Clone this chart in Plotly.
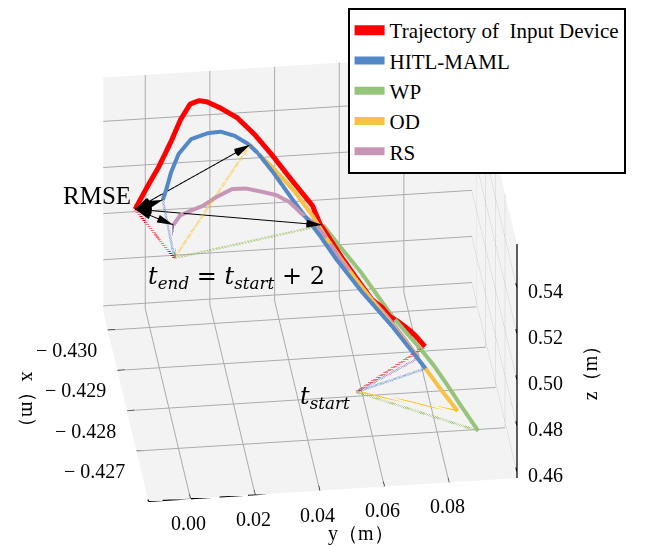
import numpy as np
import plotly.graph_objects as go

# ---------------- data (metres) ----------------
red_x = [-0.42785, -0.42796, -0.42801, -0.42806, -0.42812, -0.42816, -0.42826, -0.42834, -0.42857, -0.42880,
         -0.42901, -0.42914, -0.42934, -0.42961, -0.42989, -0.43009, -0.43027, -0.43037, -0.43043, -0.43044,
         -0.43040, -0.43023, -0.42999, -0.42971, -0.42947, -0.42924]
red_y = [0.07877, 0.07624, 0.07481, 0.07307, 0.07102, 0.06895, 0.06671, 0.06380, 0.05967, 0.05556,
         0.05231, 0.05013, 0.04840, 0.04281, 0.03725, 0.03276, 0.02790, 0.02288, 0.01900, 0.01655,
         0.01368, 0.01021, 0.00660, 0.00198, -0.00256, -0.00678]
red_z = [0.47983, 0.48272, 0.48408, 0.48547, 0.48691, 0.48812, 0.49074, 0.49299, 0.49866, 0.50455,
         0.50963, 0.51295, 0.51759, 0.52438, 0.53140, 0.53665, 0.54126, 0.54425, 0.54617, 0.54673,
         0.54618, 0.54269, 0.53783, 0.53218, 0.52744, 0.52266]

blue_x = [-0.42761, -0.42805, -0.42842, -0.42877, -0.42901, -0.42937, -0.42968, -0.42989, -0.42999,
          -0.43007, -0.43011, -0.43009, -0.43002, -0.42985, -0.42965, -0.42947, -0.42935]
blue_y = [0.07825, 0.06934, 0.06090, 0.05395, 0.04984, 0.04291, 0.03742, 0.03324, 0.03038,
          0.02654, 0.02231, 0.01825, 0.01284, 0.00847, 0.00555, 0.00362, 0.00211]
blue_z = [0.47455, 0.48574, 0.49524, 0.50407, 0.50997, 0.51903, 0.52673, 0.53194, 0.53465,
          0.53702, 0.53852, 0.53860, 0.53769, 0.53456, 0.53030, 0.52661, 0.52402]

green_x = [-0.42695, -0.42721, -0.42744, -0.42765, -0.42783, -0.42800, -0.42817, -0.42832, -0.42863,
           -0.42890, -0.42913]
green_y = [0.09255, 0.08817, 0.08437, 0.08081, 0.07718, 0.07324, 0.06959, 0.06685, 0.06135,
           0.05576, 0.05104]
green_z = [0.45777, 0.46416, 0.47002, 0.47514, 0.47958, 0.48406, 0.48826, 0.49212, 0.49982,
           0.50662, 0.51259]

yellow_x = [-0.42716, -0.42741, -0.42761, -0.42793, -0.42820, -0.42847, -0.42877, -0.42901, -0.42923,
            -0.42949, -0.42973, -0.42989, -0.42998]
yellow_y = [0.08683, 0.08183, 0.07825, 0.07216, 0.06657, 0.06101, 0.05549, 0.05138, 0.04815,
            0.04318, 0.03753, 0.03324, 0.03097]
yellow_z = [0.46318, 0.46966, 0.47455, 0.48257, 0.48936, 0.49638, 0.50386, 0.50976, 0.51507,
            0.52178, 0.52788, 0.53194, 0.53434]

purple_x = [-0.42772, -0.42795, -0.42816, -0.42834, -0.42855, -0.42875, -0.42898, -0.42914, -0.42924,
            -0.42937, -0.42944, -0.42947, -0.42950, -0.42949, -0.42940, -0.42930, -0.42924, -0.42919,
            -0.42908]
purple_y = [0.07634, 0.07221, 0.06803, 0.06380, 0.05962, 0.05545, 0.05193, 0.04859, 0.04509,
            0.04137, 0.03751, 0.03326, 0.02839, 0.02404, 0.01890, 0.01435, 0.01020, 0.00700,
            0.00461]
purple_z = [0.47737, 0.48303, 0.48824, 0.49299, 0.49820, 0.50340, 0.50899, 0.51315, 0.51571,
            0.51923, 0.52138, 0.52264, 0.52399, 0.52434, 0.52294, 0.52122, 0.52039, 0.51965,
            0.51765]

t_start_pt = [-0.42733, 0.05603, 0.47125]
t_end_pt = [-0.42872, 0.00382, 0.50962]

x_ticks = [-0.430, -0.429, -0.428, -0.427]
y_ticks = [0.00, 0.02, 0.04, 0.06, 0.08]
z_ticks = [0.46, 0.48, 0.50, 0.52, 0.54]
x_range = [-0.43046, -0.42575]
y_range = [-0.013, 0.101]
z_range = [0.4575, 0.559]

series = [
    ("Trajectory of  Input Device", red_x, red_y, red_z, "#ff0000", 10, "#ff0000"),
    ("HITL-MAML", blue_x, blue_y, blue_z, "#5288c8", 8, "#4a78c0"),
    ("WP", green_x, green_y, green_z, "#95c47a", 8, "#8cb84e"),
    ("OD", yellow_x, yellow_y, yellow_z, "#f6c243", 8, "#ffc000"),
    ("RS", purple_x, purple_y, purple_z, "#c896b5", 8, "#8a64aa"),
]

SERIF = "Liberation Serif"
MATH = "DejaVu Serif"
fig = go.Figure()

def seg(p, q, color="black", width=2, dash=None):
    line = dict(color=color, width=width)
    if dash:
        line["dash"] = dash
    fig.add_trace(go.Scatter3d(x=[p[0], q[0]], y=[p[1], q[1]], z=[p[2], q[2]], mode="lines",
                               line=line, showlegend=False, hoverinfo="skip"))

# dotted guide lines
for name, xs, ys, zs, col, w, dcol in series:
    seg(t_start_pt, [xs[0], ys[0], zs[0]], dcol, 5, "dot")
    seg(t_end_pt, [xs[-1], ys[-1], zs[-1]], dcol, 5, "dot")

for name, xs, ys, zs, col, w, dcol in series:
    fig.add_trace(go.Scatter3d(x=xs, y=ys, z=zs, mode="lines", name=name,
                               line=dict(color=col, width=w)))

# RMSE arrows from the end of the input-device trajectory
asp = np.array([1.36, 1.36, 1.0])
rng = np.array([x_range[1] - x_range[0], y_range[1] - y_range[0], z_range[1] - z_range[0]])
p0 = np.array([red_x[-1], red_y[-1], red_z[-1]])
cx, cy, cz, cu, cv, cw = [], [], [], [], [], []
for name, xs, ys, zs, col, w, dcol in series[1:]:
    p1 = np.array([xs[-1], ys[-1], zs[-1]])
    seg(p0, p1, "black", 2)
    d = p1 - p0
    s = d / rng * asp
    dn = d / np.linalg.norm(s) * 0.06
    for tip, vec in ((p1, dn), (p0, -dn)):
        cx.append(tip[0]); cy.append(tip[1]); cz.append(tip[2])
        cu.append(vec[0]); cv.append(vec[1]); cw.append(vec[2])

fig.add_trace(go.Cone(x=cx, y=cy, z=cz, u=cu, v=cv, w=cw, anchor="tip",
                      sizemode="raw", sizeref=1, showscale=False,
                      colorscale=[[0, "black"], [1, "black"]], hoverinfo="skip"))

# axis lines and ticks (matplotlib-like placement)
x_near, x_far = x_range[1], x_range[0]
y_min, y_max = y_range
z_min, z_max = z_range
seg([x_far, y_min, z_min], [x_near, y_min, z_min], "black", 2.5)
seg([x_near, y_min, z_min], [x_near, y_max, z_min], "black", 2.5)
seg([x_near, y_max, z_min], [x_near, y_max, z_max], "black", 2.5)
for v in x_ticks:
    seg([v, y_min, z_min], [v, y_min + 0.02 * rng[1], z_min], "black", 2)
for v in y_ticks:
    seg([x_near, v, z_min], [x_near - 0.025 * rng[0], v, z_min], "black", 2)
for v in z_ticks:
    seg([x_near, y_max, v], [x_near - 0.025 * rng[0], y_max, v], "black", 2)

tf = dict(family=SERIF, size=20, color="black")
annotations = []
for v in x_ticks:
    annotations.append(dict(x=v, y=y_min, z=z_min, text="\u2212 %.3f" % abs(v), showarrow=False,
                            xanchor="right", yanchor="middle", xshift=-9, yshift=-20, font=tf))
for v in y_ticks:
    annotations.append(dict(x=x_near, y=v, z=z_min, text="%.2f" % v, showarrow=False,
                            xanchor="center", yanchor="middle", xshift=-2, yshift=-24, font=tf))
for v in z_ticks:
    annotations.append(dict(x=x_near, y=y_max, z=v, text="%.2f" % v, showarrow=False,
                            xanchor="left", yanchor="middle", xshift=9, yshift=-3, font=tf))

annotations += [
    dict(x=red_x[-1], y=red_y[-1], z=red_z[-1], text="RMSE", showarrow=False,
         xanchor="right", yanchor="bottom", xshift=-2, yshift=-2,
         font=dict(family=SERIF, size=25, color="black")),
    dict(x=t_end_pt[0], y=t_end_pt[1], z=t_end_pt[2],
         text="<i>t</i><sub><i>end</i></sub> = <i>t</i><sub><i>start</i></sub> + 2",
         showarrow=False, xanchor="left", yanchor="top", xshift=-28, yshift=-2,
         font=dict(family=MATH, size=24, color="black")),
    dict(x=t_start_pt[0], y=t_start_pt[1], z=t_start_pt[2],
         text="<i>t</i><sub><i>start</i></sub>", showarrow=False,
         xanchor="right", yanchor="middle", xshift=-4, yshift=-6,
         font=dict(family=MATH, size=24, color="black")),
]

hidden = dict(showbackground=True, backgroundcolor="#f3f3f3", gridcolor="#ababab",
              gridwidth=2, showline=False, ticks="", showticklabels=False,
              showspikes=False, zeroline=False, title=dict(text=""))

fig.update_layout(
    width=653, height=546, margin=dict(l=0, r=0, t=0, b=0),
    paper_bgcolor="white", font=dict(family=SERIF, color="black"),
    legend=dict(x=0.52, y=1.0, xanchor="left", yanchor="top", bgcolor="white",
                bordercolor="black", borderwidth=2, font=dict(family=SERIF, size=21),
                tracegroupgap=0),
    annotations=[
        dict(x=0.012, y=0.21, xref="paper", yref="paper", text="x（m）", textangle=90,
             showarrow=False, font=dict(family=SERIF, size=20, color="black")),
        dict(x=0.541, y=0.012, xref="paper", yref="paper", text="y（m）",
             showarrow=False, font=dict(family=SERIF, size=20, color="black")),
        dict(x=0.911, y=0.34, xref="paper", yref="paper", text="z（m）", textangle=-90,
             showarrow=False, font=dict(family=SERIF, size=20, color="black")),
    ],
    scene=dict(
        domain=dict(x=[0, 1], y=[0, 1]),
        aspectmode="manual", aspectratio=dict(x=1.36, y=1.36, z=1.0),
        xaxis=dict(hidden, range=x_range, tickvals=x_ticks),
        yaxis=dict(hidden, range=y_range, tickvals=y_ticks),
        zaxis=dict(hidden, range=z_range, tickvals=z_ticks),
        camera=dict(eye=dict(x=1.191, y=-0.056, z=0.701), up=dict(x=0, y=0, z=1),
                    center=dict(x=0, y=0.09, z=-0.02), projection=dict(type="orthographic")),
        annotations=annotations,
    ),
)

fig.write_html("out.html")
